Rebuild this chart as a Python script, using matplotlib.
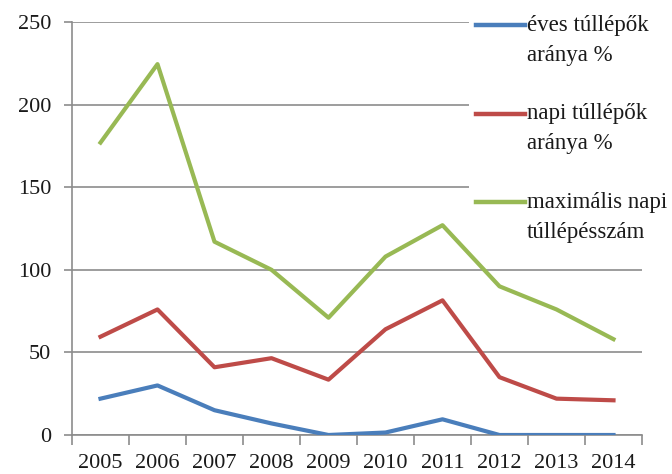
import matplotlib.pyplot as plt
from matplotlib.lines import Line2D
from matplotlib.patches import Rectangle
import numpy as np

# adatok
years = ["2005", "2006", "2007", "2008", "2009", "2010", "2011", "2012", "2013", "2014"]
eves = [22, 30, 15, 7, 0, 1.5, 9.5, 0, 0, 0]
napi = [59.5, 76, 41, 46.5, 33.5, 64, 81.5, 35, 22, 21]
maximalis = [177, 224.5, 117, 100, 71, 108, 127, 90, 76, 58]

labels = ["éves túllépők\naránya %", "napi túllépők\naránya %", "maximális napi\ntúllépésszám"]
colors = ["#4a7ebb", "#be4b48", "#98b954"]

plt.rcParams['font.family'] = ['Liberation Serif', 'DejaVu Serif']
plt.rcParams['text.color'] = '#1a1a1a'

fig = plt.figure(figsize=(6.72, 4.74), dpi=100)
ax = fig.add_axes([72 / 672, 1 - 435 / 474, 570 / 672, (435 - 22) / 474])

x = np.arange(len(years))
for vals, c in zip([eves, napi, maximalis], colors):
    ax.plot(x, vals, color=c, lw=3, zorder=3, solid_joinstyle='round')

ax.set_xlim(-0.5, len(years) - 0.5)
ax.set_ylim(0, 250)
ax.set_yticks(range(0, 251, 50))
ax.set_xticks(x)
ax.set_xticklabels(years)
ax.set_xticks(np.arange(-0.5, len(years)), minor=True)
ax.tick_params(axis='x', which='major', length=0, pad=14, labelsize=16, labelcolor='#1a1a1a')
ax.tick_params(axis='x', which='minor', length=7, width=1.2, color='#8c8c8c')
ax.tick_params(axis='y', length=6, width=1.2, color='#8c8c8c', pad=9, labelsize=16, labelcolor='#1a1a1a')

ax.set_axisbelow(True)
ax.yaxis.grid(True, color='#8c8c8c', lw=1.2)
for s in ['top', 'right']:
    ax.spines[s].set_visible(False)
for s in ['left', 'bottom']:
    ax.spines[s].set_color('#8c8c8c')
    ax.spines[s].set_linewidth(1.2)

# jelmagyarazat
W, H = 672, 474
ax.add_patch(Rectangle((469 / W, 1 - 240 / H), 1 - 469 / W, 240 / H,
                       transform=fig.transFigure, facecolor='white',
                       edgecolor='none', zorder=1, clip_on=False))
for i, (lab, c) in enumerate(zip(labels, colors)):
    yy = 25 + 88.5 * i
    fig.add_artist(Line2D([476 / W, 525 / W], [1 - yy / H, 1 - yy / H],
                          color=c, lw=3.2, transform=fig.transFigure))
    fig.text(527 / W, 1 - (yy - 10) / H, lab, fontsize=16.5, va='top', ha='left',
             linespacing=1.55)

fig.savefig("out.png", dpi=100)
